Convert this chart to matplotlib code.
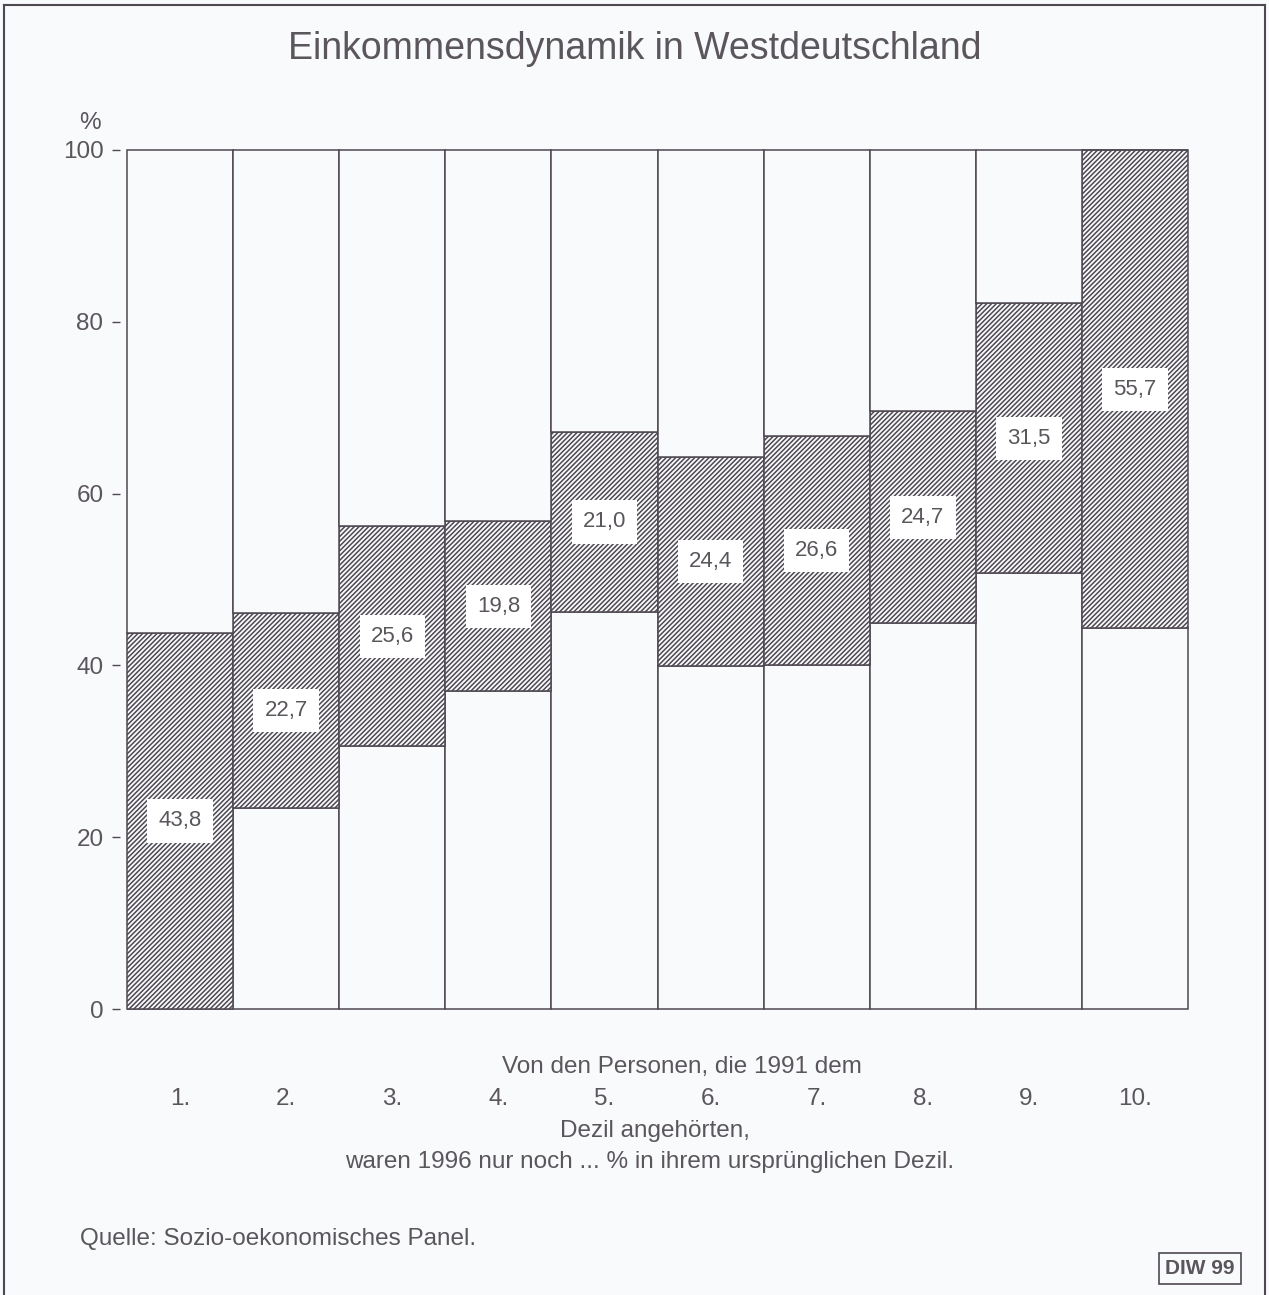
import matplotlib.pyplot as plt
from matplotlib.lines import Line2D

plt.rcParams['font.family'] = ['Liberation Sans', 'DejaVu Sans']
plt.rcParams['hatch.linewidth'] = 1.1

# Deciles 1991, share still in the same decile in 1996
deciles = ['1.', '2.', '3.', '4.', '5.', '6.', '7.', '8.', '9.', '10.']
bottom = [0.0, 23.4, 30.6, 37.0, 46.2, 39.9, 40.1, 44.9, 50.7, 44.3]
stayed = [43.8, 22.7, 25.6, 19.8, 21.0, 24.4, 26.6, 24.7, 31.5, 55.7]
labels = ['43,8', '22,7', '25,6', '19,8', '21,0', '24,4', '26,6', '24,7', '31,5', '55,7']

BG = '#f8fafb'
TXT = '#5a565c'
EDGE = '#4f4852'
HATCH = '#4a4252'
plt.rcParams['hatch.color'] = HATCH

fig = plt.figure(figsize=(12.69, 12.95), dpi=100, facecolor=BG)
ax = fig.add_axes([0.0946, 0.2208, 0.8416, 0.6634])
ax.set_facecolor(BG)

x = list(range(len(deciles)))
mid_top = [b + s for b, s in zip(bottom, stayed)]
rest = [100 - t for t in mid_top]

# lower white part, hatched middle, upper white part
b1 = ax.bar(x, bottom, width=1.0, color=BG, edgecolor=EDGE, linewidth=1.1)
b2 = ax.bar(x, stayed, bottom=bottom, width=1.0, color=BG, edgecolor=EDGE,
            linewidth=1.1, hatch='///////')
b3 = ax.bar(x, rest, bottom=mid_top, width=1.0, color=BG, edgecolor=EDGE, linewidth=1.1)
for cont in (b1, b2, b3):
    for p in cont:
        p.set_clip_on(False)

for xi, b, s, lab in zip(x, bottom, stayed, labels):
    ax.text(xi, b + s / 2, lab, ha='center', va='center', fontsize=16, color=TXT,
            bbox=dict(boxstyle='square,pad=0.5', facecolor='white', edgecolor='none'))

ax.set_xlim(-0.566, 9.5)
ax.set_ylim(0, 100)
ax.set_yticks([0, 20, 40, 60, 80, 100])
ax.tick_params(axis='y', length=6, width=1, color=EDGE, labelsize=17.5,
               labelcolor=TXT, pad=6)
ax.set_xticks(x)
ax.set_xticklabels(deciles)
ax.tick_params(axis='x', length=0, labelsize=17.5, labelcolor=TXT, pad=57)
for sp in ax.spines.values():
    sp.set_visible(False)
ax.text(-0.85, 101.8, '%', fontsize=17.5, color=TXT, ha='center', va='bottom')

fig.text(0.5, 0.9625, 'Einkommensdynamik in Westdeutschland', ha='center',
         va='center', fontsize=27, color=TXT)
fig.text(0.537, 0.176, 'Von den Personen, die 1991 dem', ha='center', va='center',
         fontsize=17.5, color=TXT)
fig.text(0.516, 0.127, 'Dezil angehörten,', ha='center', va='center',
         fontsize=17.5, color=TXT)
fig.text(0.512, 0.103, 'waren 1996 nur noch ... % in ihrem ursprünglichen Dezil.',
         ha='center', va='center', fontsize=17.5, color=TXT)
fig.text(0.063, 0.043, 'Quelle: Sozio-oekonomisches Panel.', ha='left', va='center',
         fontsize=17.5, color=TXT)
fig.text(0.9455, 0.0205, 'DIW 99', ha='center', va='center', fontsize=15,
         color=TXT, fontweight='bold',
         bbox=dict(boxstyle='square,pad=0.3', facecolor=BG, edgecolor=EDGE, linewidth=1.2))

# page frame
for xs, ys in [([0.0035, 0.0035], [0, 0.996]), ([0.0035, 0.997], [0.996, 0.996]),
               ([0.997, 0.997], [0, 0.996])]:
    fig.add_artist(Line2D(xs, ys, color=EDGE, linewidth=1.5))

fig.savefig('out.png', dpi=100, facecolor=BG)
